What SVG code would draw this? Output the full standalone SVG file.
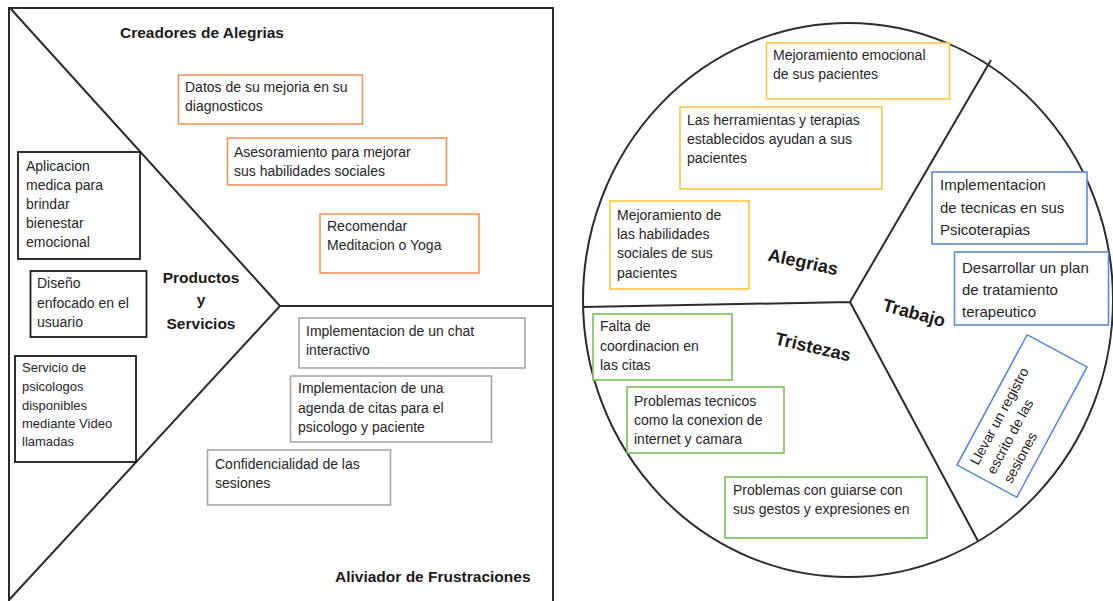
<svg xmlns="http://www.w3.org/2000/svg" width="1113" height="601" viewBox="0 0 1113 601">
<style>
  text { font-family: "Liberation Sans", Arial, sans-serif; fill: #262626; }
  .t { font-size: 14px; }
  .ts { font-size: 13px; }
  .tr { font-size: 14px; }
  .tl { font-size: 15px; }
  .title { font-size: 15.5px; font-weight: bold; fill: #1a1a1a; }
  .seg { font-size: 18px; font-weight: bold; fill: #1a1a1a; }
  .frame { fill: none; stroke: #2b2b2b; stroke-width: 2; }
  .box { fill: #ffffff; stroke-width: 1.6; }
  .orange { stroke: #F0945A; }
  .black { stroke: #1a1a1a; stroke-width: 1.8; }
  .gray { stroke: #A6A6A6; }
  .yellow { stroke: #FFC63A; }
  .blue { stroke: #5A8AD6; }
  .green { stroke: #7CBD55; }
</style>
<rect width="1113" height="601" fill="#ffffff"/>

<g id="connectors">
  <path class="frame" d="M9,601 V8 H553 V601"/>
  <path class="frame" d="M10,8 L280,306 L9,600"/>
  <line class="frame" x1="280" y1="306" x2="553" y2="306"/>
  <ellipse class="frame" cx="848" cy="300" rx="265" ry="277"/>
  <path class="frame" d="M583,307 L850,302 L991,60 M850,302 L978,541"/>
</g>

<g id="label-creadores"><text class="title" x="120" y="38">Creadores de Alegrias</text></g>
<g id="label-productos">
  <text class="title" x="201" y="283" text-anchor="middle">Productos</text>
  <text class="title" x="201" y="305" text-anchor="middle">y</text>
  <text class="title" x="201" y="329" text-anchor="middle">Servicios</text>
</g>
<g id="label-aliviador"><text class="title" x="335" y="582">Aliviador de Frustraciones</text></g>

<g id="node-datos">
  <rect class="box orange" x="178.5" y="75" width="184" height="49"/>
  <text class="t" x="185" y="92">Datos de su mejoria en su</text>
  <text class="t" x="185" y="111">diagnosticos</text>
</g>
<g id="node-asesoramiento">
  <rect class="box orange" x="227.5" y="138" width="219" height="47"/>
  <text class="t" x="234" y="157">Asesoramiento para mejorar</text>
  <text class="t" x="234" y="176">sus habilidades sociales</text>
</g>
<g id="node-recomendar">
  <rect class="box orange" x="320" y="214" width="159" height="59"/>
  <text class="t" x="327" y="231">Recomendar</text>
  <text class="t" x="327" y="250">Meditacion o Yoga</text>
</g>

<g id="node-aplicacion">
  <rect class="box black" x="18" y="152" width="122" height="107"/>
  <text class="t" x="26" y="171">Aplicacion</text>
  <text class="t" x="26" y="190">medica para</text>
  <text class="t" x="26" y="209">brindar</text>
  <text class="t" x="26" y="228">bienestar</text>
  <text class="t" x="26" y="247">emocional</text>
</g>
<g id="node-diseno">
  <rect class="box black" x="30.5" y="271" width="116" height="66"/>
  <text class="t" x="37" y="288">Diseño</text>
  <text class="t" x="37" y="308">enfocado en el</text>
  <text class="t" x="37" y="327">usuario</text>
</g>
<g id="node-servicio">
  <rect class="box black" x="15" y="356" width="121" height="106"/>
  <text class="ts" x="22" y="372">Servicio de</text>
  <text class="ts" x="22" y="391">psicologos</text>
  <text class="ts" x="22" y="410">disponibles</text>
  <text class="ts" x="22" y="428">mediante Video</text>
  <text class="ts" x="22" y="446">llamadas</text>
</g>

<g id="node-chat">
  <rect class="box gray" x="299" y="318" width="226" height="50"/>
  <text class="t" x="306" y="336">Implementacion de un chat</text>
  <text class="t" x="306" y="355">interactivo</text>
</g>
<g id="node-agenda">
  <rect class="box gray" x="290.5" y="376" width="201" height="66"/>
  <text class="t" x="298" y="393">Implementacion de una</text>
  <text class="t" x="298" y="413">agenda de citas para el</text>
  <text class="t" x="298" y="432">psicologo y paciente</text>
</g>
<g id="node-confidencialidad">
  <rect class="box gray" x="207.5" y="450" width="183" height="55"/>
  <text class="t" x="215" y="469">Confidencialidad de las</text>
  <text class="t" x="215" y="488">sesiones</text>
</g>

<g id="label-alegrias"><text class="seg" x="803" y="268" text-anchor="middle" transform="rotate(12 803 262)">Alegrias</text></g>
<g id="label-tristezas"><text class="seg" x="813" y="353" text-anchor="middle" transform="rotate(13 813 347)">Tristezas</text></g>
<g id="label-trabajo"><text class="seg" x="914" y="319" text-anchor="middle" transform="rotate(15 914 313)">Trabajo</text></g>

<g id="node-mejoramiento-emocional">
  <rect class="box yellow" x="766.5" y="43" width="183" height="56"/>
  <text class="t" x="773" y="60">Mejoramiento emocional</text>
  <text class="t" x="773" y="79">de sus pacientes</text>
</g>
<g id="node-herramientas">
  <rect class="box yellow" x="680" y="107" width="202" height="82"/>
  <text class="t" x="687" y="125">Las herramientas y terapias</text>
  <text class="t" x="687" y="144">establecidos ayudan a sus</text>
  <text class="t" x="687" y="163">pacientes</text>
</g>
<g id="node-mejoramiento-habilidades">
  <rect class="box yellow" x="610" y="201" width="139" height="88"/>
  <text class="t" x="617" y="220">Mejoramiento de</text>
  <text class="t" x="617" y="239">las habilidades</text>
  <text class="t" x="617" y="258">sociales de sus</text>
  <text class="t" x="617" y="278">pacientes</text>
</g>

<g id="node-implementacion-tecnicas">
  <rect class="box blue" x="932" y="172" width="155" height="72"/>
  <text class="tl" x="940" y="190">Implementacion</text>
  <text class="tl" x="940" y="213">de tecnicas en sus</text>
  <text class="tl" x="940" y="235">Psicoterapias</text>
</g>
<g id="node-desarrollar">
  <rect class="box blue" x="954.5" y="252" width="154" height="73"/>
  <text class="tl" x="962" y="273">Desarrollar un plan</text>
  <text class="tl" x="962" y="295">de tratamiento</text>
  <text class="tl" x="962" y="317">terapeutico</text>
</g>
<g id="node-llevar" transform="translate(1022 416) rotate(-61.7)">
  <rect class="box blue" x="-74" y="-34" width="148" height="68"/>
  <text class="tr" x="-65" y="-15">Llevar un registro</text>
  <text class="tr" x="-65" y="4">escrito de las</text>
  <text class="tr" x="-65" y="23">sesiones</text>
</g>

<g id="node-falta">
  <rect class="box green" x="593" y="314" width="139" height="66"/>
  <text class="t" x="600" y="331">Falta de</text>
  <text class="t" x="600" y="351">coordinacion en</text>
  <text class="t" x="600" y="370">las citas</text>
</g>
<g id="node-problemas-tecnicos">
  <rect class="box green" x="627" y="387" width="157" height="66"/>
  <text class="t" x="634" y="406">Problemas tecnicos</text>
  <text class="t" x="634" y="425">como la conexion de</text>
  <text class="t" x="634" y="444">internet y camara</text>
</g>
<g id="node-problemas-guiarse">
  <rect class="box green" x="725" y="477" width="202" height="61"/>
  <text class="t" x="733" y="495">Problemas con guiarse con</text>
  <text class="t" x="733" y="514">sus gestos y expresiones en</text>
</g>
</svg>
